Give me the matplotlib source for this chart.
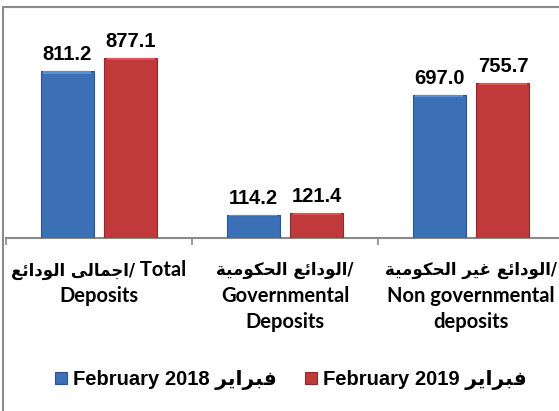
import matplotlib
matplotlib.use("Agg")
import matplotlib.pyplot as plt
import matplotlib.transforms as mtransforms
import numpy as np
from matplotlib.patches import Rectangle
from matplotlib.offsetbox import TextArea, HPacker, AnnotationBbox

# ---- data -------------------------------------------------------------
categories_ar = ["اجمالى الودائع", "الودائع الحكومية", "الودائع غير الحكومية"]
categories_en = [["Total", "Deposits"], ["Governmental", "Deposits"],
                 ["Non governmental", "deposits"]]
series_names = ["February 2018", "February 2019"]
series_ar = "فبراير"
values_2018 = [811.2, 114.2, 697.0]
values_2019 = [877.1, 121.4, 755.7]

# ---- minimal Arabic shaping (presentation forms + visual order) -------
# letter: (isolated, final, initial, medial); initial/medial None = right-joining only
FORMS = {
    "ا": (0xFE8D, 0xFE8E, None, None),
    "ب": (0xFE8F, 0xFE90, 0xFE91, 0xFE92),
    "ة": (0xFE93, 0xFE94, None, None),
    "ج": (0xFE9D, 0xFE9E, 0xFE9F, 0xFEA0),
    "ح": (0xFEA1, 0xFEA2, 0xFEA3, 0xFEA4),
    "د": (0xFEA9, 0xFEAA, None, None),
    "ر": (0xFEAD, 0xFEAE, None, None),
    "ع": (0xFEC9, 0xFECA, 0xFECB, 0xFECC),
    "غ": (0xFECD, 0xFECE, 0xFECF, 0xFED0),
    "ف": (0xFED1, 0xFED2, 0xFED3, 0xFED4),
    "ك": (0xFED9, 0xFEDA, 0xFEDB, 0xFEDC),
    "ل": (0xFEDD, 0xFEDE, 0xFEDF, 0xFEE0),
    "م": (0xFEE1, 0xFEE2, 0xFEE3, 0xFEE4),
    "و": (0xFEED, 0xFEEE, None, None),
    "ى": (0xFEEF, 0xFEF0, None, None),
    "ي": (0xFEF1, 0xFEF2, 0xFEF3, 0xFEF4),
    "ئ": (0xFE89, 0xFE8A, 0xFE8B, 0xFE8C),
}


def arabic_visual(text):
    out = []
    for i, c in enumerate(text):
        if c not in FORMS:
            out.append(c)
            continue
        iso, fin, ini, med = FORMS[c]
        prev = text[i - 1] if i > 0 else None
        nxt = text[i + 1] if i + 1 < len(text) else None
        j_prev = prev in FORMS and FORMS[prev][2] is not None
        j_next = nxt in FORMS and ini is not None
        if j_prev and j_next:
            form = med
        elif j_prev:
            form = fin
        elif j_next:
            form = ini
        else:
            form = iso
        out.append(chr(form))
    return "".join(out)[::-1]


# ---- figure -----------------------------------------------------------
W, H = 559, 411
fig = plt.figure(figsize=(W / 100, H / 100), dpi=100)
fig.patch.set_facecolor("white")

# outer frame
fig.add_artist(Rectangle((3 / W, -0.05), 1.1, 1 - 7 / H + 0.05,
                         transform=fig.transFigure, fill=False,
                         edgecolor="#8a8a8a", linewidth=1.5))

AX_H = 205.5
ax = fig.add_axes([6 / W, 1 - 238 / H, 558 / W, AX_H / H])
ax.set_facecolor("none")

x = np.arange(len(values_2018))
bw = 0.285
off = 0.172
blue, red = "#3b6fb6", "#c0393b"
leg_label = [f"{n} {arabic_visual(series_ar)}" for n in series_names]
b1 = ax.bar(x - off, values_2018, bw, color=blue, edgecolor="#2c558f",
            linewidth=0.8, zorder=3, label=leg_label[0])
b2 = ax.bar(x + off, values_2019, bw, color=red, edgecolor="#8f2a2b",
            linewidth=0.8, zorder=3, label=leg_label[1])

# soft top highlight on each bar
for bars, light in ((b1, "#5a8ed6"), (b2, "#dc5455")):
    for r in bars:
        h = r.get_height()
        band = min(h * 0.06, 12)
        ax.bar(r.get_x() + r.get_width() / 2, band, r.get_width() * 0.9,
               bottom=h - band, color=light, linewidth=0, zorder=4)

for bars, vals in ((b1, values_2018), (b2, values_2019)):
    for r, v in zip(bars, vals):
        ax.annotate(f"{v:.1f}", (r.get_x() + r.get_width() / 2, v),
                    xytext=(0, 5), textcoords="offset points",
                    ha="center", va="bottom", fontsize=14.5, fontweight="bold",
                    family=["Liberation Sans", "DejaVu Sans"])

ax.set_xlim(-0.5, 2.5)
ax.set_ylim(0, 1000)
for s in ("top", "right", "left"):
    ax.spines[s].set_visible(False)
ax.spines["bottom"].set_color("#8a8a8a")
ax.spines["bottom"].set_linewidth(1.5)
ax.set_yticks([])
ax.set_xticks([-0.5, 0.5, 1.5, 2.5])
ax.set_xticklabels([])
ax.tick_params(axis="x", which="major", length=5, width=1.2, color="#8a8a8a")

# ---- category labels --------------------------------------------------
trans = mtransforms.blended_transform_factory(ax.transData, ax.transAxes)
line_y = [-32 / AX_H, -58 / AX_H, -84 / AX_H]
ar_prop = dict(family="DejaVu Sans", weight="bold", size=12, color="black")
en_prop = dict(family="Lato", weight="bold", size=14.5, color="black")

for i, (ar, en) in enumerate(zip(categories_ar, categories_en)):
    parts = [TextArea(arabic_visual(ar) + "/", textprops=ar_prop)]
    rest = en
    if i == 0:
        parts.append(TextArea(" " + en[0], textprops=en_prop))
        rest = en[1:]
    box = HPacker(children=parts, align="baseline", pad=0, sep=0)
    ab = AnnotationBbox(box, (i, line_y[0]), xycoords=trans, frameon=False,
                        box_alignment=(0.5, 0.5), pad=0, annotation_clip=False)
    ax.add_artist(ab)
    for k, txt in enumerate(rest):
        ax.text(i, line_y[k + 1], txt, transform=trans, ha="center", va="center",
                fontsize=14.5, fontweight="bold", family="Lato")

leg = fig.legend(handles=[b1, b2], loc="center", bbox_to_anchor=(0.52, 1 - 380 / H),
                 ncol=2, frameon=False, handlelength=0.6, handleheight=0.6,
                 handletextpad=0.3, columnspacing=1.4,
                 prop=dict(family=["Liberation Sans", "DejaVu Sans"], weight="bold", size=14.5))

fig.savefig("out.png", dpi=100, facecolor="white")
